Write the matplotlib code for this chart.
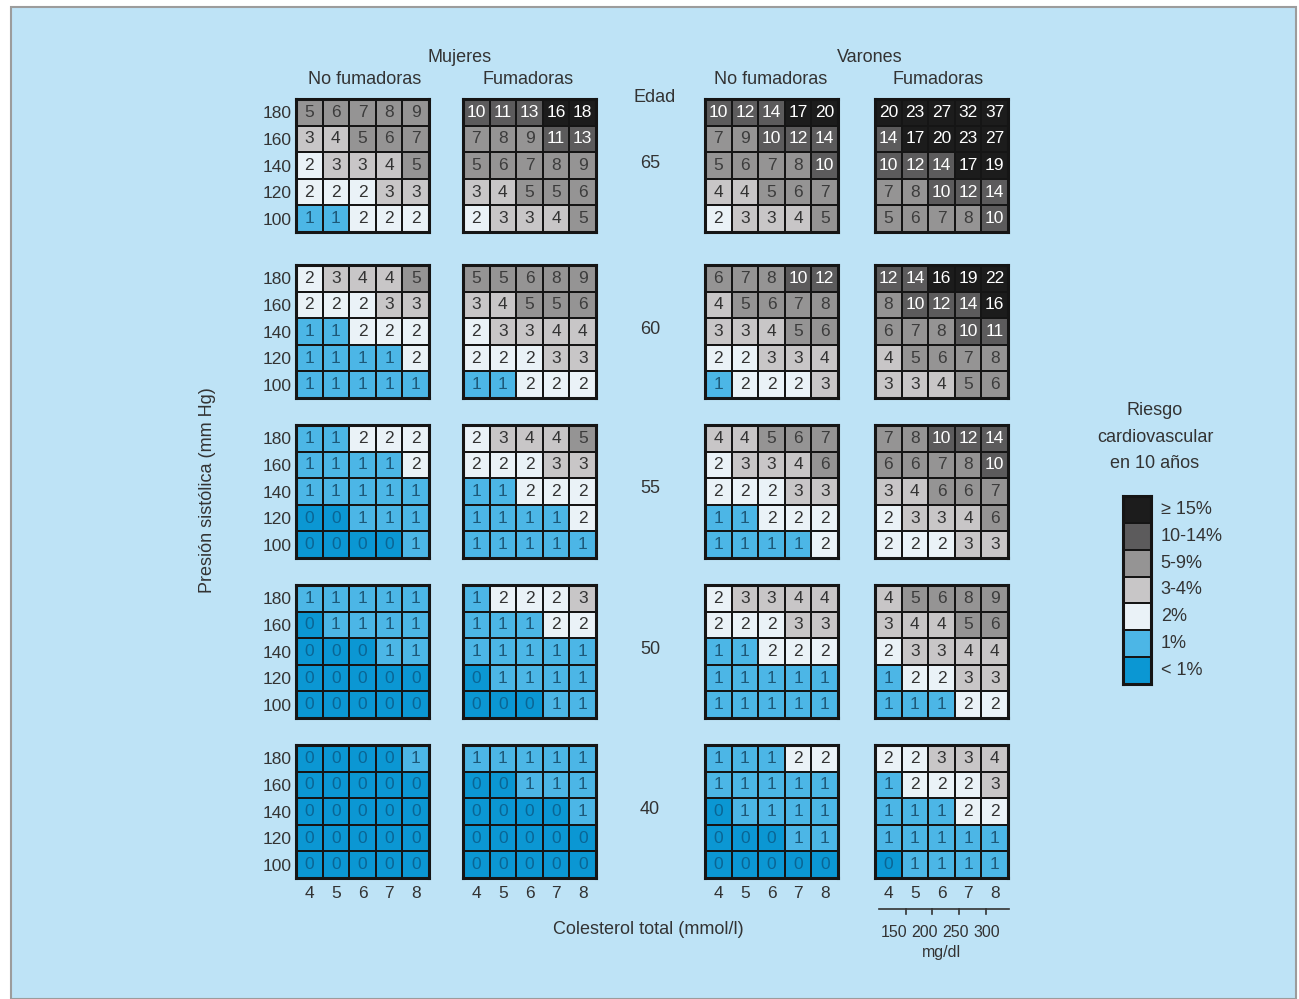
import numpy as np
import matplotlib
matplotlib.use('Agg')
import matplotlib.pyplot as plt
from matplotlib.colors import ListedColormap, BoundaryNorm
from matplotlib.patches import Rectangle

plt.rcParams['font.family'] = ['Liberation Sans', 'DejaVu Sans']

# Axis categories
colesterol = [4, 5, 6, 7, 8]
presion = [180, 160, 140, 120, 100]   # top row first, as in the chart
edades = [65, 60, 55, 50, 40]

# Risk values (%), rows = presion, cols = colesterol
m_nf_65 = [[5, 6, 7, 8, 9], [3, 4, 5, 6, 7], [2, 3, 3, 4, 5], [2, 2, 2, 3, 3], [1, 1, 2, 2, 2]]
m_f_65 = [[10, 11, 13, 16, 18], [7, 8, 9, 11, 13], [5, 6, 7, 8, 9], [3, 4, 5, 5, 6], [2, 3, 3, 4, 5]]
v_nf_65 = [[10, 12, 14, 17, 20], [7, 9, 10, 12, 14], [5, 6, 7, 8, 10], [4, 4, 5, 6, 7], [2, 3, 3, 4, 5]]
v_f_65 = [[20, 23, 27, 32, 37], [14, 17, 20, 23, 27], [10, 12, 14, 17, 19], [7, 8, 10, 12, 14], [5, 6, 7, 8, 10]]

m_nf_60 = [[2, 3, 4, 4, 5], [2, 2, 2, 3, 3], [1, 1, 2, 2, 2], [1, 1, 1, 1, 2], [1, 1, 1, 1, 1]]
m_f_60 = [[5, 5, 6, 8, 9], [3, 4, 5, 5, 6], [2, 3, 3, 4, 4], [2, 2, 2, 3, 3], [1, 1, 2, 2, 2]]
v_nf_60 = [[6, 7, 8, 10, 12], [4, 5, 6, 7, 8], [3, 3, 4, 5, 6], [2, 2, 3, 3, 4], [1, 2, 2, 2, 3]]
v_f_60 = [[12, 14, 16, 19, 22], [8, 10, 12, 14, 16], [6, 7, 8, 10, 11], [4, 5, 6, 7, 8], [3, 3, 4, 5, 6]]

m_nf_55 = [[1, 1, 2, 2, 2], [1, 1, 1, 1, 2], [1, 1, 1, 1, 1], [0, 0, 1, 1, 1], [0, 0, 0, 0, 1]]
m_f_55 = [[2, 3, 4, 4, 5], [2, 2, 2, 3, 3], [1, 1, 2, 2, 2], [1, 1, 1, 1, 2], [1, 1, 1, 1, 1]]
v_nf_55 = [[4, 4, 5, 6, 7], [2, 3, 3, 4, 6], [2, 2, 2, 3, 3], [1, 1, 2, 2, 2], [1, 1, 1, 1, 2]]
v_f_55 = [[7, 8, 10, 12, 14], [6, 6, 7, 8, 10], [3, 4, 6, 6, 7], [2, 3, 3, 4, 6], [2, 2, 2, 3, 3]]

m_nf_50 = [[1, 1, 1, 1, 1], [0, 1, 1, 1, 1], [0, 0, 0, 1, 1], [0, 0, 0, 0, 0], [0, 0, 0, 0, 0]]
m_f_50 = [[1, 2, 2, 2, 3], [1, 1, 1, 2, 2], [1, 1, 1, 1, 1], [0, 1, 1, 1, 1], [0, 0, 0, 1, 1]]
v_nf_50 = [[2, 3, 3, 4, 4], [2, 2, 2, 3, 3], [1, 1, 2, 2, 2], [1, 1, 1, 1, 1], [1, 1, 1, 1, 1]]
v_f_50 = [[4, 5, 6, 8, 9], [3, 4, 4, 5, 6], [2, 3, 3, 4, 4], [1, 2, 2, 3, 3], [1, 1, 1, 2, 2]]

m_nf_40 = [[0, 0, 0, 0, 1], [0, 0, 0, 0, 0], [0, 0, 0, 0, 0], [0, 0, 0, 0, 0], [0, 0, 0, 0, 0]]
m_f_40 = [[1, 1, 1, 1, 1], [0, 0, 1, 1, 1], [0, 0, 0, 0, 1], [0, 0, 0, 0, 0], [0, 0, 0, 0, 0]]
v_nf_40 = [[1, 1, 1, 2, 2], [1, 1, 1, 1, 1], [0, 1, 1, 1, 1], [0, 0, 0, 1, 1], [0, 0, 0, 0, 0]]
v_f_40 = [[2, 2, 3, 3, 4], [1, 2, 2, 2, 3], [1, 1, 1, 2, 2], [1, 1, 1, 1, 1], [0, 1, 1, 1, 1]]

tablas = [
    [m_nf_65, m_f_65, v_nf_65, v_f_65],
    [m_nf_60, m_f_60, v_nf_60, v_f_60],
    [m_nf_55, m_f_55, v_nf_55, v_f_55],
    [m_nf_50, m_f_50, v_nf_50, v_f_50],
    [m_nf_40, m_f_40, v_nf_40, v_f_40],
]

# Legend categories (top to bottom) and risk bins (low to high)
leyenda = ['\u2265 15%', '10-14%', '5-9%', '3-4%', '2%', '1%', '< 1%']
limites = [-0.5, 0.5, 1.5, 2.5, 4.5, 9.5, 14.5, 100]
colores = ['#0b97d3', '#4cb6e6', '#eaf2f7', '#c8c6c7', '#959494', '#5c5b5c', '#1c1c1c']
mg_dl = ['150', '200', '250', '300']

cmap = ListedColormap(colores)
norm = BoundaryNorm(limites, cmap.N)

W, H = 1299, 999
fondo = '#bee3f6'
fig = plt.figure(figsize=(W / 100, H / 100), dpi=100)
fig.patch.set_facecolor('white')
fig.patches.append(Rectangle((11 / W, 0), 1285 / W, 992 / H, transform=fig.transFigure,
                             facecolor=fondo, edgecolor='#9c9c9c', linewidth=1.5, zorder=-10))


def px_rect(x, y, w, h):
    # pixel box (top-left origin) -> figure fraction
    return [x / W, 1 - (y + h) / H, w / W, h / H]


def color_texto(v):
    if v == 0:
        return '#0a6594'
    if v == 1:
        return '#1d5878'
    if v >= 10:
        return 'white'
    if v >= 5:
        return '#3c3c3c'
    return '#333333'


def marco(ax):
    for s in ax.spines.values():
        s.set_linewidth(2.2)
        s.set_color('#151515')


x_izq = [296, 463, 705, 875]
y_sup = [99, 265, 425, 585, 745]
lado = 133
fs = 12.5
tc = '#333333'

sbp_asc = presion[::-1]
for i, edad in enumerate(edades):
    for j in range(4):
        datos = np.array(tablas[i][j])[::-1]   # bottom row = 100
        ax = fig.add_axes(px_rect(x_izq[j], y_sup[i], lado, lado))
        ax.pcolormesh(np.arange(3.5, 9.0), np.arange(90, 200, 20), datos, cmap=cmap, norm=norm,
                      edgecolors='#151515', linewidth=1.4)
        for r, sbp in enumerate(sbp_asc):
            for c, col in enumerate(colesterol):
                v = datos[r, c]
                ax.text(col, sbp, str(v), ha='center', va='center', fontsize=fs,
                        color=color_texto(v))
        ax.set_xlim(3.5, 8.5)
        ax.set_ylim(90, 190)
        marco(ax)
        ax.tick_params(length=0, labelsize=fs, colors=tc)
        if j == 0:
            ax.set_yticks(sbp_asc)
            ax.set_yticklabels([str(p) for p in sbp_asc])
            ax.tick_params(axis='y', pad=3)
        else:
            ax.set_yticks([])
        if i == len(edades) - 1:
            ax.set_xticks(colesterol)
            ax.set_xticklabels([str(c) for c in colesterol])
            ax.tick_params(axis='x', pad=6)
        else:
            ax.set_xticks([])
        if j == 3 and i == len(edades) - 1:
            # mg/dl secondary scale
            ax.plot([3.66, 8.55], [67, 67], color=tc, lw=1.2, clip_on=False)
            for t in [4.68, 5.65, 6.67, 7.68]:
                ax.plot([t, t], [67, 63], color=tc, lw=1.2, clip_on=False)
            for t, lab in zip([4.23, 5.35, 6.52, 7.72], mg_dl):
                ax.text(t, 49, lab, ha='center', va='center', fontsize=11.5, color=tc)
            ax.text(6.0, 34, 'mg/dl', ha='center', va='center', fontsize=11.5, color=tc)
    # age label
    fig.text(650 / W, 1 - (y_sup[i] + 64) / H, str(edad), ha='center', va='center',
             fontsize=fs + 0.5, color=tc)

fig.text(655 / W, 1 - 98 / H, 'Edad', ha='center', va='center', fontsize=fs + 0.5, color=tc)
fig.text(460 / W, 1 - 57 / H, 'Mujeres', ha='center', va='center', fontsize=fs + 0.5, color=tc)
fig.text(870 / W, 1 - 57 / H, 'Varones', ha='center', va='center', fontsize=fs + 0.5, color=tc)
fig.text(365 / W, 1 - 79 / H, 'No fumadoras', ha='center', va='center', fontsize=fs + 0.5, color=tc)
fig.text(528 / W, 1 - 79 / H, 'Fumadoras', ha='center', va='center', fontsize=fs + 0.5, color=tc)
fig.text(771 / W, 1 - 79 / H, 'No fumadoras', ha='center', va='center', fontsize=fs + 0.5, color=tc)
fig.text(938 / W, 1 - 79 / H, 'Fumadoras', ha='center', va='center', fontsize=fs + 0.5, color=tc)
fig.text(648 / W, 1 - 930 / H, 'Colesterol total (mmol/l)', ha='center', va='center',
         fontsize=fs + 0.5, color=tc)
fig.text(208 / W, 1 - 490 / H, 'Presión sistólica (mm Hg)', ha='center', va='center',
         rotation=90, fontsize=fs + 0.5, color=tc)

# legend
fig.text(1155 / W, 1 - 437 / H, 'Riesgo\ncardiovascular\nen 10 años', ha='center', va='center',
         fontsize=fs + 0.5, color=tc, linespacing=1.75)
lax = fig.add_axes(px_rect(1123, 496, 28, 188))
niveles = np.arange(len(colores)).reshape(-1, 1)   # row 0 at bottom = lowest risk
lax.pcolormesh([0, 1], np.arange(len(colores) + 1), niveles, cmap=cmap,
               vmin=-0.5, vmax=len(colores) - 0.5, edgecolors='#151515', linewidth=1.4)
lax.set_xlim(0, 1)
lax.set_ylim(0, len(colores))
lax.set_xticks([])
lax.set_yticks([])
marco(lax)
for k, lab in enumerate(leyenda):
    lax.text(1.35, len(leyenda) - k - 0.5, lab, ha='left', va='center', fontsize=fs + 0.5, color=tc)

fig.savefig('out.png', dpi=100, facecolor=fig.get_facecolor())
